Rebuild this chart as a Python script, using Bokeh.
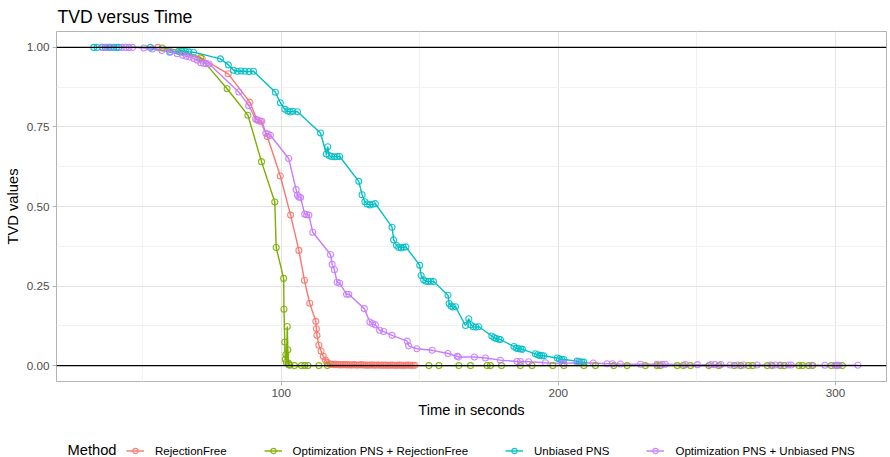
from bokeh.plotting import figure
from bokeh.layouts import column
from bokeh.models import Range1d, FixedTicker, Span, Legend, LegendItem, Label
from bokeh.embed import file_html
from bokeh.resources import INLINE

# ---------------- data ----------------
methods = ["RejectionFree", "Optimization PNS + RejectionFree",
           "Unbiased PNS", "Optimization PNS + Unbiased PNS"]
colors = ["#F8766D", "#7CAE00", "#00BFC4", "#C77CFF"]

rf_time = [55.5, 71.5, 80.9, 88.7, 91.3, 92.5, 95.0, 99.7, 103.4, 106.4, 108.4, 110.3,
           112.5, 112.7, 112.9, 113.6, 114.4, 115.2, 116.0, 116.6, 117.2,
           117.8, 118.4, 119.1, 119.7, 120.4, 121.0, 121.7, 122.3, 123.0, 123.6, 124.3, 124.9,
           125.6, 126.2, 126.9, 127.5, 128.2, 128.8, 129.5, 130.1, 130.8, 131.4, 132.1, 132.7,
           133.4, 134.0, 134.7, 135.3, 136.0, 136.6, 137.3, 137.9, 138.6, 139.2, 139.9, 140.5,
           141.2, 141.8, 142.5, 143.1, 143.8, 144.4, 145.1, 145.7, 146.4, 147.0, 147.7, 148.3]
rf_tvd = [1.0, 0.965, 0.917, 0.828, 0.772, 0.768, 0.72, 0.596, 0.473, 0.362, 0.268, 0.196,
          0.139, 0.116, 0.095, 0.064, 0.046, 0.029, 0.017, 0.010, 0.006,
          0.004, 0.004, 0.003, 0.004, 0.003, 0.003, 0.002, 0.003, 0.003, 0.002, 0.003, 0.002,
          0.002, 0.003, 0.002, 0.002, 0.002, 0.003, 0.002, 0.002, 0.002, 0.001, 0.002, 0.002,
          0.002, 0.001, 0.002, 0.002, 0.001, 0.002, 0.001, 0.002, 0.001, 0.001, 0.002, 0.001,
          0.001, 0.001, 0.002, 0.001, 0.001, 0.001, 0.001, 0.002, 0.001, 0.001, 0.001, 0.001]

opt_rf_time = [57.1, 64.0, 70.9, 80.5, 88.0, 92.9, 97.7, 98.2, 100.9, 101.0, 101.3, 101.5,
               101.7, 101.9, 102.2, 102.4, 102.6, 102.8, 103.1,
               104.8, 107.3, 108.5, 109.7, 113.6, 116.7,
               153.3, 156.9, 164.1, 168.3, 174.3, 175.5, 179.5, 186.3, 190.5, 198.0,
               202.0, 209.2, 213.4, 220.0, 224.8, 231.4, 235.6, 236.8, 242.9, 245.1,
               247.7, 254.3, 257.9, 263.5, 265.8, 268.6, 270.1, 275.4, 277.2, 280.1,
               281.5, 286.8, 288.1, 290.3, 291.8, 298.5, 300.5, 302.5]
opt_rf_tvd = [0.998, 0.99, 0.968, 0.87, 0.787, 0.641, 0.514, 0.371, 0.274, 0.177, 0.074, 0.020,
              0.035, 0.010, 0.123, 0.050, 0.008, 0.003, 0.001,
              0.0, 0.0, 0.0, 0.0, 0.0, 0.0,
              0.0, 0.0, 0.0, 0.0, 0.0, 0.0, 0.0, 0.0, 0.0, 0.0,
              0.0, 0.0, 0.0, 0.0, 0.0, 0.0, 0.0, 0.0, 0.0, 0.0,
              0.0, 0.0, 0.0, 0.0, 0.0, 0.0, 0.0, 0.0, 0.0, 0.0,
              0.0, 0.0, 0.0, 0.0, 0.0, 0.0, 0.0, 0.0]

unb_time = [32.4, 33.6, 35.4, 36.6, 37.8, 38.4, 39.6, 40.6, 41.4,
            52.8, 59.8, 63.0, 64.2, 65.5, 66.7, 68.4,
            78.1, 81.0, 82.8, 84.2, 85.5, 86.9, 88.4, 90.0,
            97.9, 99.7, 101.3, 102.4, 103.3, 104.2, 105.9,
            114.2, 116.3, 116.8, 117.3, 118.2, 119.3, 120.2, 121.1,
            128.0, 129.2, 130.2, 131.0, 132.0, 133.0, 134.0,
            140.0, 140.6, 141.6, 142.4, 143.3, 144.1, 145.0,
            150.0, 150.5, 151.4, 152.2, 153.1, 154.0, 155.0,
            160.2, 160.6, 161.3, 162.0, 162.9,
            166.5, 167.7, 168.4, 169.3, 170.3, 171.3,
            176.0, 176.8, 177.6, 178.5, 179.1,
            184.0, 184.8, 185.6, 186.4, 187.1,
            191.7, 192.5, 193.3, 194.0, 194.7,
            199.6, 200.4, 201.2, 202.0,
            206.8, 207.6, 208.4, 209.2]
unb_tvd = [1.0, 1.0, 1.0, 1.0, 1.0, 1.0, 1.0, 1.0, 1.0,
           1.0, 0.985, 0.988, 0.987, 0.987, 0.986, 0.985,
           0.964, 0.945, 0.928, 0.925, 0.926, 0.925, 0.924, 0.925,
           0.859, 0.826, 0.806, 0.800, 0.797, 0.799, 0.798,
           0.731, 0.665, 0.688, 0.660, 0.657, 0.656, 0.657, 0.657,
           0.579, 0.537, 0.515, 0.508, 0.505, 0.507, 0.509,
           0.435, 0.395, 0.378, 0.372, 0.370, 0.372, 0.373,
           0.315, 0.283, 0.270, 0.265, 0.264, 0.265, 0.264,
           0.221, 0.195, 0.187, 0.184, 0.185,
           0.126, 0.147, 0.128, 0.122, 0.121, 0.122,
           0.093, 0.088, 0.085, 0.083, 0.082,
           0.060, 0.055, 0.053, 0.052, 0.051,
           0.037, 0.034, 0.032, 0.031, 0.031,
           0.024, 0.021, 0.019, 0.019,
           0.014, 0.012, 0.011, 0.011]

opt_unb_time = [35.6, 37.1, 38.9, 42.6, 43.9, 45.1, 46.4,
                50.5, 53.5, 57.0, 60.0, 62.5, 64.5, 65.8, 67.0, 68.5, 69.7, 71.0, 72.0, 73.0, 74.0,
                84.7, 88.3, 90.8, 91.8, 93.0, 94.5, 95.3, 96.1,
                102.7, 105.4, 105.9, 106.4, 107.0, 108.5, 109.2, 110.0, 111.4,
                117.8, 118.4, 119.2, 120.2, 121.1, 123.6, 124.4,
                130.0, 132.0, 133.0, 134.0, 135.5, 137.0, 140.0,
                145.5, 146.0, 149.0, 154.5, 160.2, 163.5, 164.0, 169.7, 173.7, 179.1,
                185.1, 186.3, 189.3, 195.3, 201.4, 202.0, 206.8, 212.6, 217.6, 219.5, 222.4,
                229.6, 235.6, 237.5, 238.6, 245.9, 250.2, 255.0, 256.5, 258.6, 262.0, 264.5, 266.8,
                271.7, 276.7, 278.3, 280.0, 283.0, 284.0, 291.5, 296.2, 299.8, 300.6, 301.3, 308.1]
opt_unb_tvd = [1.0, 1.0, 1.0, 1.0, 1.0, 1.0, 1.0,
               0.998, 0.995, 0.990, 0.987, 0.980, 0.975, 0.972, 0.970, 0.965, 0.960, 0.952, 0.950, 0.949, 0.948,
               0.860, 0.817, 0.775, 0.770, 0.768, 0.730, 0.727, 0.724,
               0.651, 0.553, 0.535, 0.530, 0.528, 0.476, 0.474, 0.473, 0.419,
               0.349, 0.318, 0.301, 0.262, 0.259, 0.224, 0.224,
               0.179, 0.137, 0.132, 0.128, 0.111, 0.107, 0.095,
               0.077, 0.062, 0.053, 0.048, 0.038, 0.029, 0.027, 0.027, 0.024, 0.017,
               0.013, 0.013, 0.012, 0.009, 0.007, 0.007, 0.009, 0.008, 0.006, 0.006, 0.005,
               0.004, 0.004, 0.004, 0.004, 0.003, 0.003, 0.003, 0.003, 0.003, 0.002, 0.002, 0.002,
               0.002, 0.002, 0.002, 0.002, 0.002, 0.002, 0.001, 0.001, 0.001, 0.001, 0.001, 0.001]

hline_values = [0.0, 1.0]
x_ticks = [100, 200, 300]
x_minor = [50, 150, 250]
x_tick_labels = ["100", "200", "300"]
y_ticks = [0.0, 0.25, 0.5, 0.75, 1.0]
y_minor = [0.125, 0.375, 0.625, 0.875]
y_tick_labels = ["0.00", "0.25", "0.50", "0.75", "1.00"]
chart_title = "TVD versus Time"
legend_title = "Method"

series = [
    (methods[0], rf_time, rf_tvd, colors[0]),
    (methods[1], opt_rf_time, opt_rf_tvd, colors[1]),
    (methods[2], unb_time, unb_tvd, colors[2]),
    (methods[3], opt_unb_time, opt_unb_tvd, colors[3]),
]

FONT = "Liberation Sans"
W = 890
H_TITLE = 30
H_MAIN = 406
H_LEG = 21
LEFT = 56
RIGHT = 4


def strip(height, y0):
    """A bare strip with the main panel's side borders: data x equals page pixels."""
    s = figure(width=W, height=height, output_backend="svg", toolbar_location=None,
               x_range=Range1d(LEFT, W - RIGHT), y_range=Range1d(y0, y0 + height),
               x_axis_type=None, y_axis_type=None,
               min_border_left=LEFT, min_border_right=RIGHT, min_border_top=0, min_border_bottom=0)
    s.outline_line_color = None
    s.grid.visible = False
    s.background_fill_color = "white"
    s.border_fill_color = "white"
    return s


# ---------------- title strip ----------------
t_strip = strip(H_TITLE, 0)
t_strip.add_layout(Label(x=57, y=H_TITLE - 16.6, text=chart_title, text_font=FONT,
                         text_font_size="17.6px", text_color="black",
                         text_baseline="alphabetic", text_align="left"))

# ---------------- main panel ----------------
p = figure(width=W, height=H_MAIN, output_backend="svg", toolbar_location=None,
           x_range=Range1d(18.94, 318.4), y_range=Range1d(-0.05, 1.05),
           min_border_left=LEFT, min_border_right=RIGHT, min_border_top=1, min_border_bottom=55)

p.background_fill_color = "white"
p.border_fill_color = "white"
p.outline_line_color = "#B3B3B3"
p.outline_line_width = 1

p.xaxis.ticker = FixedTicker(ticks=x_ticks, minor_ticks=x_minor)
p.yaxis.ticker = FixedTicker(ticks=y_ticks, minor_ticks=y_minor)
p.xaxis.major_label_overrides = {t: l for t, l in zip(x_ticks, x_tick_labels)}
p.yaxis.major_label_overrides = {t: l for t, l in zip(y_ticks, y_tick_labels)}

for ax in (p.xaxis, p.yaxis):
    ax.axis_line_color = None
    ax.major_tick_line_color = "#B3B3B3"
    ax.major_tick_out = 4
    ax.major_tick_in = 0
    ax.minor_tick_line_color = None
    ax.major_label_text_font = FONT
    ax.major_label_text_font_size = "11.7px"
    ax.major_label_text_color = "#4D4D4D"
    ax.major_label_standoff = 3
    ax.axis_label_text_font = FONT
    ax.axis_label_text_font_size = "14.7px"
    ax.axis_label_text_font_style = "normal"
    ax.axis_label_text_color = "black"
p.xaxis.axis_label = "Time in seconds"
p.yaxis.axis_label = "TVD values"
p.xaxis.axis_label_standoff = 2
p.yaxis.axis_label_standoff = 3

p.xgrid.grid_line_color = "#E3E3E3"
p.ygrid.grid_line_color = "#E3E3E3"
p.xgrid.minor_grid_line_color = "#F1F1F1"
p.ygrid.minor_grid_line_color = "#F1F1F1"
p.xgrid.grid_line_width = 1
p.ygrid.grid_line_width = 1

LINE_W = 1.4
PT_SIZE = 6
for name, t, v, c in series:
    p.line(t, v, line_color=c, line_width=LINE_W)
for name, t, v, c in series:
    p.scatter(t, v, marker="circle", size=PT_SIZE, fill_color=None,
              line_color=c, line_width=1.1, line_alpha=0.9)

for hv in hline_values:
    p.add_layout(Span(location=hv, dimension="width", line_color="black", line_width=1.4))

# ---------------- legend strip ----------------
# Its y range sits above the series values, so the key renderers' own data stays out of view.
q = strip(H_LEG, 5)
items = []
for name, t, v, c in series:
    lr = q.line(t, v, line_color=c, line_width=LINE_W)
    pr = q.scatter(t, v, marker="circle", size=PT_SIZE, fill_color=None,
                   line_color=c, line_width=1.1, line_alpha=0.9)
    items.append(LegendItem(label=name, renderers=[lr, pr]))

legend = Legend(items=items, orientation="horizontal", location=(126 - LEFT, 0),
                border_line_color=None, background_fill_alpha=0,
                label_text_font=FONT, label_text_font_size="11.5px", label_text_color="black",
                glyph_width=18, glyph_height=13, label_standoff=11, spacing=37, padding=0,
                margin=0)
q.add_layout(legend)
q.add_layout(Label(x=67, y=5 + 7.5, text=legend_title, text_font=FONT,
                   text_font_size="14.7px", text_color="black",
                   text_baseline="middle", text_align="left"))

layout = column(t_strip, p, q, spacing=0)
open("out.html", "w").write(file_html(layout, INLINE))
